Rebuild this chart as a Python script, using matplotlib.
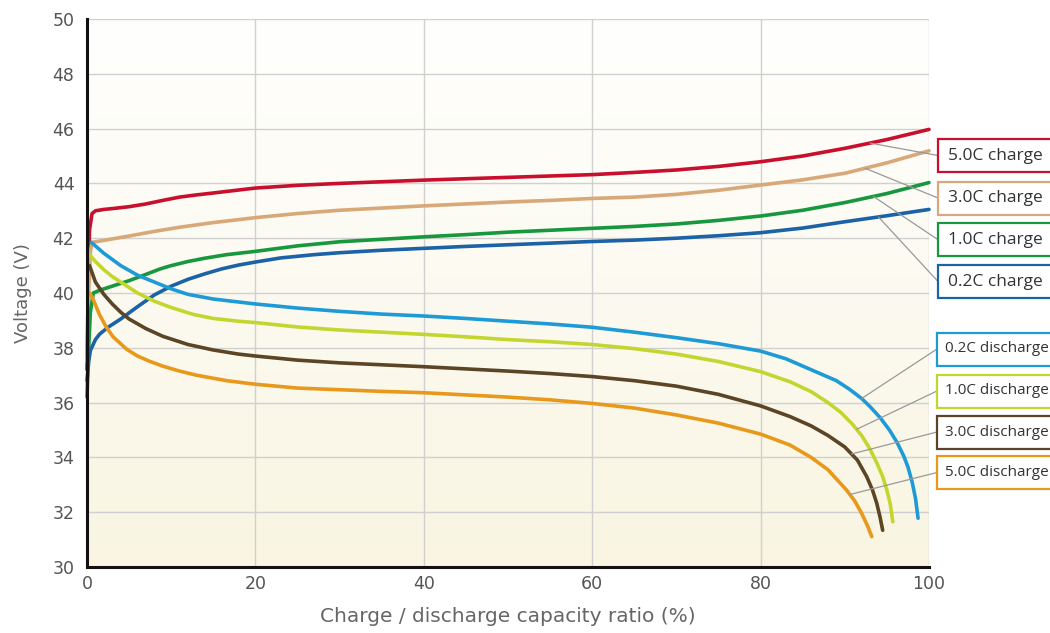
import numpy as np
import matplotlib
matplotlib.use("Agg")
import matplotlib.pyplot as plt
from matplotlib.colors import LinearSegmentedColormap
from matplotlib.patches import Rectangle

# ---------------- data ----------------
x_red = [0, 0.15, 0.3, 0.6, 1, 2, 3, 5, 7, 9, 11, 13, 15, 20, 25, 30, 35, 40, 45, 50, 55,
         60, 65, 70, 75, 80, 85, 90, 95, 100]
v_red = [37.2, 40.5, 42.3, 42.9, 43.0, 43.05, 43.08, 43.15, 43.25, 43.38, 43.5, 43.58,
         43.65, 43.83, 43.93, 44.0, 44.06, 44.12, 44.17, 44.22, 44.27, 44.32, 44.4, 44.49,
         44.62, 44.79, 45.0, 45.28, 45.6, 45.97]

x_tan = [0, 0.2, 0.4, 0.6, 2, 5, 8, 11, 15, 20, 25, 30, 35, 40, 45, 50, 55, 60, 65, 70,
         75, 80, 85, 90, 95, 100]
v_tan = [37.5, 40.0, 41.5, 41.85, 41.92, 42.08, 42.25, 42.4, 42.57, 42.75, 42.9, 43.02,
         43.1, 43.18, 43.25, 43.32, 43.38, 43.45, 43.5, 43.6, 43.75, 43.94, 44.13, 44.37,
         44.75, 45.19]

x_green = [0, 0.2, 0.4, 0.75, 1.5, 3, 5, 7, 8.7, 10, 12, 14, 16.6, 20, 25, 30, 35, 40, 45,
           50, 55, 60, 65, 70, 75, 80, 85, 90, 95, 100]
v_green = [36.2, 38.0, 39.3, 40.0, 40.1, 40.25, 40.45, 40.68, 40.88, 41.0, 41.15, 41.27,
           41.4, 41.52, 41.72, 41.87, 41.96, 42.05, 42.13, 42.22, 42.29, 42.36, 42.43,
           42.52, 42.65, 42.81, 43.02, 43.3, 43.63, 44.03]

x_blue = [0, 0.2, 0.4, 1, 1.5, 2.5, 4, 6, 8, 10, 12, 14, 16, 18, 20, 23, 27, 30, 35, 40,
          45, 50, 55, 60, 65, 70, 75, 80, 85, 90, 95, 100]
v_blue = [36.8, 37.5, 37.9, 38.3, 38.5, 38.75, 39.05, 39.5, 39.93, 40.25, 40.5, 40.7,
          40.88, 41.02, 41.13, 41.28, 41.4, 41.47, 41.56, 41.63, 41.7, 41.76, 41.82, 41.88,
          41.93, 42.0, 42.09, 42.2, 42.37, 42.6, 42.82, 43.05]

x_dis02 = [0.5, 2, 4, 6, 8, 10, 12, 15, 20, 25, 30, 35, 40, 45, 50, 55, 60, 65, 70, 75,
           80, 83, 86, 89, 90.5, 92, 93, 94.2, 95.3, 96.2, 97, 97.5, 98, 98.4, 98.7]
v_dis02 = [41.85, 41.45, 41.0, 40.65, 40.4, 40.15, 39.95, 39.78, 39.6, 39.45, 39.33, 39.23,
           39.16, 39.07, 38.97, 38.87, 38.75, 38.57, 38.37, 38.15, 37.88, 37.6, 37.2, 36.8,
           36.5, 36.15, 35.85, 35.45, 35.0, 34.55, 34.05, 33.65, 33.1, 32.5, 31.78]

x_dis10 = [0.3, 1, 2, 3, 4.5, 6, 8, 10, 12.6, 15, 18, 20, 25, 30, 35, 40, 45, 50, 55, 60,
           65, 70, 75, 80, 83.5, 86, 88, 89.5, 90.8, 92, 93, 93.8, 94.5, 95.0, 95.4, 95.7]
v_dis10 = [41.4, 41.15, 40.85, 40.6, 40.3, 40.0, 39.7, 39.47, 39.22, 39.07, 38.97, 38.92,
           38.76, 38.65, 38.57, 38.49, 38.4, 38.3, 38.22, 38.12, 37.97, 37.77, 37.5, 37.13,
           36.76, 36.4, 36.0, 35.65, 35.25, 34.8, 34.3, 33.8, 33.3, 32.8, 32.3, 31.65]

x_dis30 = [0.3, 1, 2, 3, 4, 5, 7, 9, 12, 15, 18, 20, 25, 30, 35, 40, 45, 50, 55, 60, 65,
           70, 75, 80, 83.5, 86, 88, 90, 91.5, 92.6, 93.3, 93.8, 94.2, 94.5]
v_dis30 = [41.0, 40.4, 39.95, 39.6, 39.3, 39.05, 38.7, 38.42, 38.12, 37.92, 37.77, 37.7,
           37.55, 37.45, 37.38, 37.31, 37.23, 37.15, 37.06, 36.95, 36.8, 36.6, 36.3, 35.88,
           35.49, 35.15, 34.8, 34.38, 33.9, 33.3, 32.8, 32.32, 31.8, 31.34]

x_dis50 = [0.3, 0.6, 1.5, 2.3, 3.1, 4.7, 6, 7.5, 9, 11, 13, 16.6, 20, 25, 30, 35, 40, 45,
           50, 55, 60, 65, 70, 75, 80, 83.5, 86, 88, 90.2, 91.2, 92, 92.7, 93.2]
v_dis50 = [40.0, 39.86, 39.2, 38.75, 38.4, 37.95, 37.7, 37.5, 37.33, 37.15, 37.0, 36.8,
           36.67, 36.53, 36.47, 36.41, 36.36, 36.28, 36.2, 36.1, 35.97, 35.8, 35.55, 35.25,
           34.85, 34.45, 34.0, 33.55, 32.81, 32.4, 31.96, 31.5, 31.11]

labels = ["5.0C charge", "3.0C charge", "1.0C charge", "0.2C charge",
          "0.2C discharge", "1.0C discharge", "3.0C discharge", "5.0C discharge"]

x_ticks = [0, 20, 40, 60, 80, 100]
y_ticks = [30, 32, 34, 36, 38, 40, 42, 44, 46, 48, 50]

# ---------------- style ----------------
colors = ["#c8102e", "#d8a878", "#17983f", "#1b62a6",
          "#1e9bd7", "#c3d630", "#5b4526", "#e8991c"]
series = [(x_red, v_red), (x_tan, v_tan), (x_green, v_green), (x_blue, v_blue),
          (x_dis02, v_dis02), (x_dis10, v_dis10), (x_dis30, v_dis30), (x_dis50, v_dis50)]

anchor_x = [93.0, 92.4, 93.4, 94.0, 92.0, 91.4, 90.8, 90.6]
box_y_img = [155.5, 198, 239.7, 281.5, 349, 391, 432, 472.5]
box_left = [938, 938, 938, 938, 937, 937, 937, 937]
text_left = [948, 948, 948, 948, 945, 945, 945, 945]
box_h = 33

plt.rcParams["font.family"] = ["DejaVu Sans"]

W, H = 1050, 633
fig = plt.figure(figsize=(W / 100, H / 100), dpi=100)
ax = fig.add_axes([87 / W, 1 - 567 / H, (929 - 87) / W, (567 - 19) / H])

cmap = LinearSegmentedColormap.from_list("bg", ["#f9f5e2", "#fffffe"])
grad = np.linspace(0, 1, 256).reshape(-1, 1)
ax.imshow(grad, extent=[0, 100, 30, 50], origin="lower", aspect="auto",
          cmap=cmap, zorder=0, interpolation="bilinear")

ax.set_xlim(0, 100)
ax.set_ylim(30, 50)
ax.set_xticks(x_ticks)
ax.set_yticks(y_ticks)
ax.grid(True, color="#d0d0d0", lw=1.0, zorder=1)
ax.set_axisbelow(True)
for s in ["top", "right"]:
    ax.spines[s].set_visible(False)
for s in ["left", "bottom"]:
    ax.spines[s].set_linewidth(2.2)
    ax.spines[s].set_color("#111111")
    ax.spines[s].set_zorder(5)
ax.tick_params(axis="y", length=0, pad=9, labelsize=12.5, labelcolor="#555555")
ax.tick_params(axis="x", length=0, pad=6, labelsize=12.5, labelcolor="#555555")

for (xs, vs), c in zip(series, colors):
    ax.plot(xs, vs, color=c, lw=2.6, solid_capstyle="round", solid_joinstyle="round",
            zorder=3, clip_on=False)

ax.set_ylabel("Voltage (V)", fontsize=13, color="#666666", labelpad=15)
ax.set_xlabel("Charge / discharge capacity ratio (%)", fontsize=14.5,
              color="#666666", labelpad=10)

for i, ((xs, vs), c, lab) in enumerate(zip(series, colors, labels)):
    axx = anchor_x[i]
    ay = float(np.interp(axx, xs, vs))
    yc = H - box_y_img[i]
    ax.annotate("", xy=(axx, ay), xycoords="data",
                xytext=(box_left[i], yc), textcoords="figure pixels",
                arrowprops=dict(arrowstyle="-", color="#999999", lw=0.9,
                                shrinkA=0, shrinkB=0),
                annotation_clip=False, zorder=6)
    rect = Rectangle((box_left[i] / W, (yc - box_h / 2) / H), 140 / W, box_h / H,
                     transform=fig.transFigure, fc="white", ec=c, lw=1.6, zorder=7)
    fig.add_artist(rect)
    fs = 12.5 if i < 4 else 11
    fig.text(text_left[i] / W, yc / H, lab, ha="left", va="center", fontsize=fs,
             color="#333333", family=["Open Sans", "DejaVu Sans"], zorder=8)

fig.savefig("out.png", dpi=100)
